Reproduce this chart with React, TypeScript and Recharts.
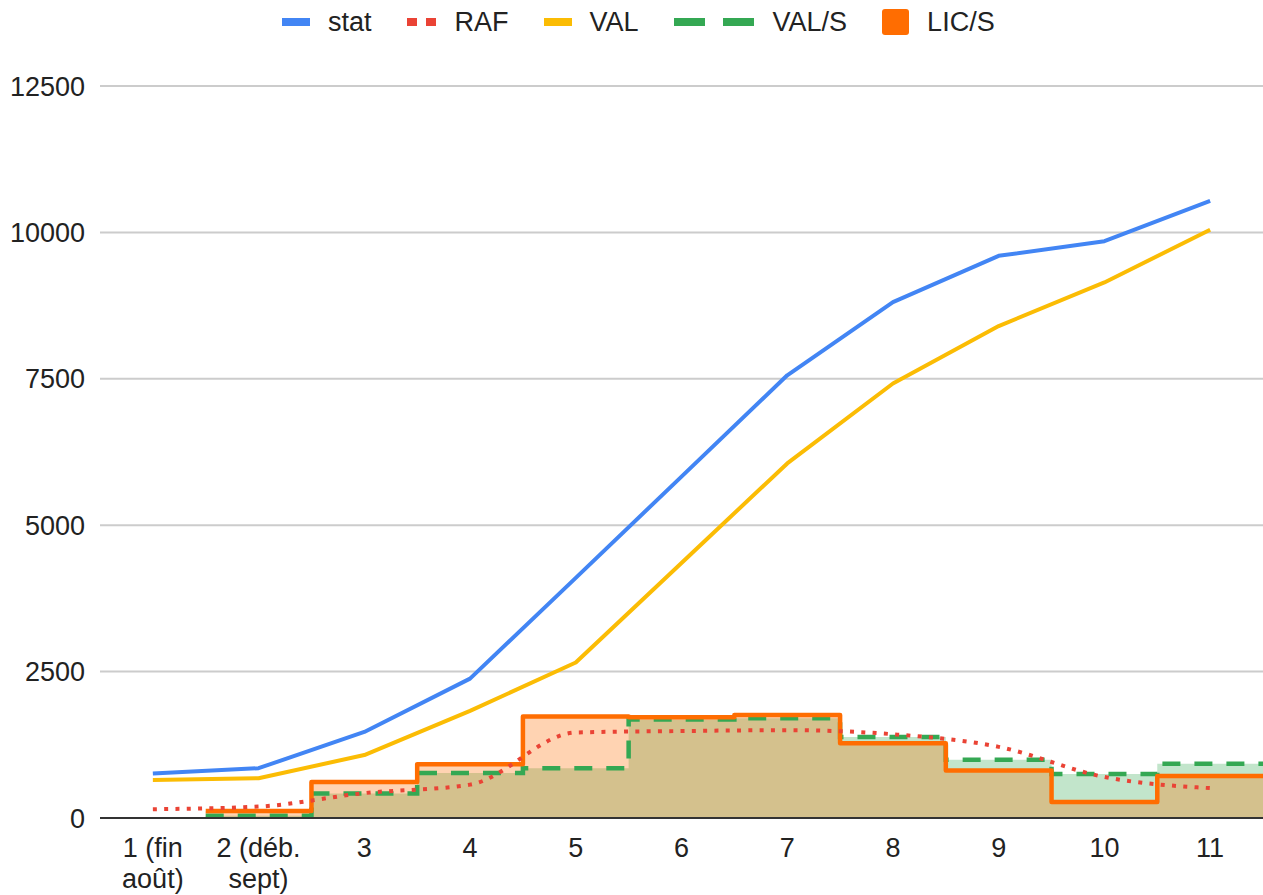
import React from "react";
import {
  ComposedChart,
  Line,
  Area,
  XAxis,
  YAxis,
  CartesianGrid,
  Legend,
} from "recharts";

const categories = [
  "1 (fin août)",
  "2 (déb. sept)",
  "3",
  "4",
  "5",
  "6",
  "7",
  "8",
  "9",
  "10",
  "11",
];
const statValues = [760, 850, 1470, 2380, 4100, 5830, 7560, 8810, 9600, 9850, 10540];
const rafValues = [150, 195, 425, 570, 1460, 1485, 1500, 1430, 1215, 700, 510];
const valValues = [650, 680, 1075, 1830, 2655, 4355, 6055, 7420, 8400, 9145, 10045];
const valSValues = [null, 40, 420, 770, 850, 1680, 1705, 1385, 995, 753, 925];
const licSValues = [null, 120, 615, 920, 1735, 1720, 1760, 1278, 812, 275, 718];
const yTicks = [0, 2500, 5000, 7500, 10000, 12500];

const seriesNames = ["stat", "RAF", "VAL", "VAL/S", "LIC/S"];
const COLORS = {
  stat: "#4285F4",
  RAF: "#EA4335",
  VAL: "#FBBC04",
  "VAL/S": "#34A853",
  "LIC/S": "#FF6D01",
};

const lineData = categories.map((c, i) => ({
  x: i + 1,
  stat: statValues[i],
  raf: rafValues[i],
  val: valValues[i],
}));

const stepData = [
  ...categories.map((c, i) => ({
    x: i + 0.5,
    valS: valSValues[i],
    licS: licSValues[i],
  })),
  {
    x: categories.length + 0.5,
    valS: valSValues[valSValues.length - 1],
    licS: licSValues[licSValues.length - 1],
  },
];

const FONT = "'Liberation Sans', Arial, sans-serif";
const TEXT = "#222";

function splitLabel(label: string): string[] {
  const idx = label.lastIndexOf(" ");
  if (idx < 0) return [label];
  return [label.slice(0, idx), label.slice(idx + 1)];
}

const XTick = (props: any) => {
  const { x, y, payload } = props;
  const label = categories[Math.round(payload.value) - 1] ?? "";
  const lines = splitLabel(label);
  return (
    <text
      x={x}
      y={y + 39}
      textAnchor="middle"
      fill={TEXT}
      fontSize={27}
      fontFamily={FONT}
    >
      {lines.map((l, i) => (
        <tspan key={i} x={x} dy={i === 0 ? 0 : 31}>
          {l}
        </tspan>
      ))}
    </text>
  );
};

const LegendIcon = ({ name }: { name: string }) => {
  const c = (COLORS as any)[name];
  if (name === "RAF") {
    return (
      <div style={{ display: "flex", gap: 9, width: 30 }}>
        <div style={{ width: 10, height: 8, background: c }} />
        <div style={{ width: 10, height: 8, background: c }} />
      </div>
    );
  }
  if (name === "VAL/S") {
    return (
      <div style={{ display: "flex", gap: 18, width: 81 }}>
        <div style={{ width: 31, height: 8, background: c }} />
        <div style={{ width: 31, height: 8, background: c }} />
      </div>
    );
  }
  if (name === "LIC/S") {
    return <div style={{ width: 27, height: 26, background: c, borderRadius: 3 }} />;
  }
  return <div style={{ width: 28, height: 8, background: c }} />;
};

const CustomLegend = () => (
  <div
    style={{
      height: 44,
      display: "flex",
      alignItems: "center",
      paddingLeft: 282,
      fontFamily: FONT,
      fontSize: 27,
      color: TEXT,
    }}
  >
    {seriesNames.map((n) => (
      <div key={n} style={{ display: "flex", alignItems: "center", marginRight: 35 }}>
        <LegendIcon name={n} />
        <span style={{ marginLeft: 18 }}>{n}</span>
      </div>
    ))}
  </div>
);

export default function App() {
  return (
    <div style={{ position: "absolute", left: 0, top: 0, background: "#fff" }}>
      <ComposedChart
        width={1263}
        height={895}
        data={lineData}
        margin={{ top: 42, right: 0, bottom: 0, left: 0 }}
      >
        <CartesianGrid vertical={false} stroke="#cccccc" strokeWidth={2} />
        <XAxis
          type="number"
          dataKey="x"
          domain={[0.5, 11.5]}
          ticks={categories.map((c, i) => i + 1)}
          allowDataOverflow
          height={77}
          tickSize={0}
          tickMargin={0}
          tick={<XTick />}
          axisLine={{ stroke: "#333", strokeWidth: 2 }}
          tickLine={false}
          interval={0}
        />
        <YAxis
          type="number"
          domain={[0, 12500]}
          ticks={yTicks}
          width={100}
          tickSize={0}
          tickMargin={15}
          axisLine={false}
          tickLine={false}
          tick={{ fill: TEXT, fontSize: 27, fontFamily: FONT }}
        />
        <Legend
          verticalAlign="top"
          align="left"
          wrapperStyle={{ top: 0, left: 0, width: 1263 }}
          content={<CustomLegend />}
        />
        {/* fills */}
        <Area
          data={stepData}
          dataKey="valS"
          name="VAL/S"
          type="stepAfter"
          stroke="none"
          fill={COLORS["VAL/S"]}
          fillOpacity={0.3}
          isAnimationActive={false}
          dot={false}
          activeDot={false}
          legendType="none"
        />
        <Area
          data={stepData}
          dataKey="licS"
          name="LIC/S"
          type="stepAfter"
          stroke="none"
          fill={COLORS["LIC/S"]}
          fillOpacity={0.3}
          isAnimationActive={false}
          dot={false}
          activeDot={false}
          legendType="none"
        />
        {/* strokes */}
        <Area
          data={stepData}
          dataKey="valS"
          name="VAL/S "
          type="stepAfter"
          stroke={COLORS["VAL/S"]}
          strokeWidth={4.5}
          strokeDasharray="18 14"
          fill="none"
          isAnimationActive={false}
          dot={false}
          activeDot={false}
          legendType="none"
        />
        <Area
          data={stepData}
          dataKey="licS"
          name="LIC/S "
          type="stepAfter"
          stroke={COLORS["LIC/S"]}
          strokeWidth={4.5}
          strokeLinejoin="round"
          fill="none"
          isAnimationActive={false}
          dot={false}
          activeDot={false}
          legendType="none"
        />
        <Line
          dataKey="raf"
          name="RAF"
          type="monotone"
          stroke={COLORS.RAF}
          strokeWidth={4}
          strokeDasharray="4 7.3"
          dot={false}
          activeDot={false}
          isAnimationActive={false}
        />
        <Line
          dataKey="val"
          name="VAL"
          type="linear"
          stroke={COLORS.VAL}
          strokeWidth={4}
          strokeLinejoin="round"
          dot={false}
          activeDot={false}
          isAnimationActive={false}
        />
        <Line
          dataKey="stat"
          name="stat"
          type="linear"
          stroke={COLORS.stat}
          strokeWidth={4}
          strokeLinejoin="round"
          dot={false}
          activeDot={false}
          isAnimationActive={false}
        />
      </ComposedChart>
    </div>
  );
}
